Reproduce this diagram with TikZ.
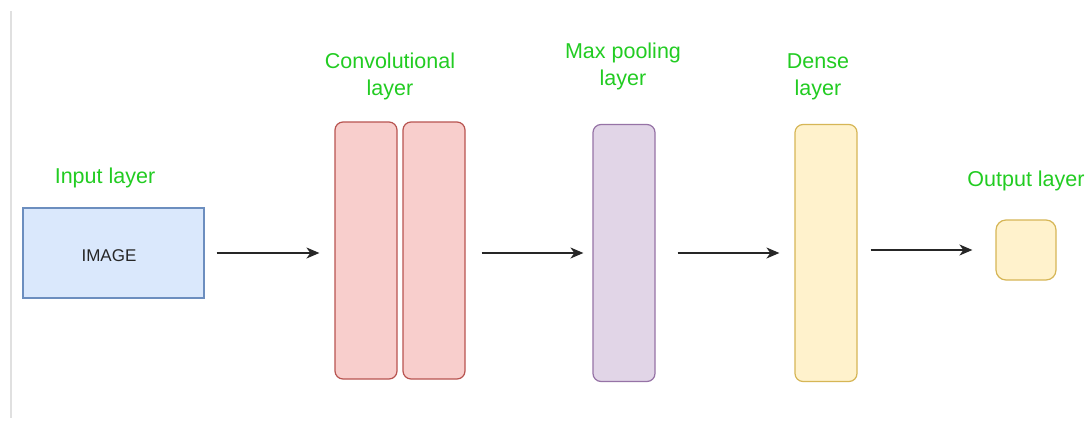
\documentclass[tikz,border=0pt]{standalone}
\usepackage{fontspec}
\setmainfont{Liberation Sans}
\usetikzlibrary{arrows.meta}
\definecolor{lblgreen}{HTML}{22CC22}
\definecolor{bluefill}{HTML}{DAE8FC}\definecolor{bluedraw}{HTML}{6C8EBF}
\definecolor{redfill}{HTML}{F8CECC}\definecolor{reddraw}{HTML}{B85450}
\definecolor{purpfill}{HTML}{E1D5E7}\definecolor{purpdraw}{HTML}{9673A6}
\definecolor{yelfill}{HTML}{FFF2CC}\definecolor{yeldraw}{HTML}{D6B656}
\tikzset{
  lbl/.style={text=lblgreen, font=\fontsize{21.5}{27}\selectfont, align=center, inner sep=0},
  layerbox/.style={rounded corners=8, line width=1.2, minimum width=62, minimum height=257, inner sep=0},
  arr/.style={line width=1.7, draw=black!85, -{Stealth[length=13, width=11, inset=4]}},
}
\begin{document}
\begin{tikzpicture}[x=1pt, y=-1pt]
\useasboundingbox (0,0) rectangle (1090,421);
\fill[white] (0,0) rectangle (1090,421);
\draw[black!12, line width=1.5] (11,11) -- (11,418);
% boxes
\node[draw=bluedraw, fill=bluefill, line width=1.2, minimum width=181, minimum height=90, inner sep=0] (inp) at (113.5,253) {};
\node[text=black!85, font=\fontsize{17}{20}\selectfont, inner sep=0] (inptxt) at (109,255.5) {IMAGE};
\node[layerbox, draw=reddraw, fill=redfill] (conv1) at (366,250.5) {};
\node[layerbox, draw=reddraw, fill=redfill] (conv2) at (434,250.5) {};
\node[layerbox, draw=purpdraw, fill=purpfill] (pool) at (624,253) {};
\node[layerbox, draw=yeldraw, fill=yelfill] (dense) at (826,253) {};
\node[rounded corners=10, line width=1.2, draw=yeldraw, fill=yelfill, minimum width=60, minimum height=60, inner sep=0] (out) at (1026,250) {};
% labels
\node[lbl, anchor=base] (linp) at (105,183.5) {Input layer};
\node[lbl, anchor=base] (lconv) at (390,95.5) {Convolutional\\layer};
\node[lbl, anchor=base] (lpool) at (623,85.5) {Max pooling\\layer};
\node[lbl, anchor=base] (ldense) at (818,95.5) {Dense\\layer};
\node[lbl, anchor=base] (lout) at (1026,186.5) {Output layer};
% arrows
\draw[arr, shorten <=12, shorten >=15] (inp.east) -- (inp.east -| conv1.west);
\draw[arr, shorten <=16, shorten >=9] (conv2.east |- pool.west) -- (pool.west);
\draw[arr, shorten <=22, shorten >=15] (pool.east) -- (dense.west);
\draw[arr, shorten <=13, shorten >=23] (dense.east |- out.west) -- (out.west);
\end{tikzpicture}
\end{document}
